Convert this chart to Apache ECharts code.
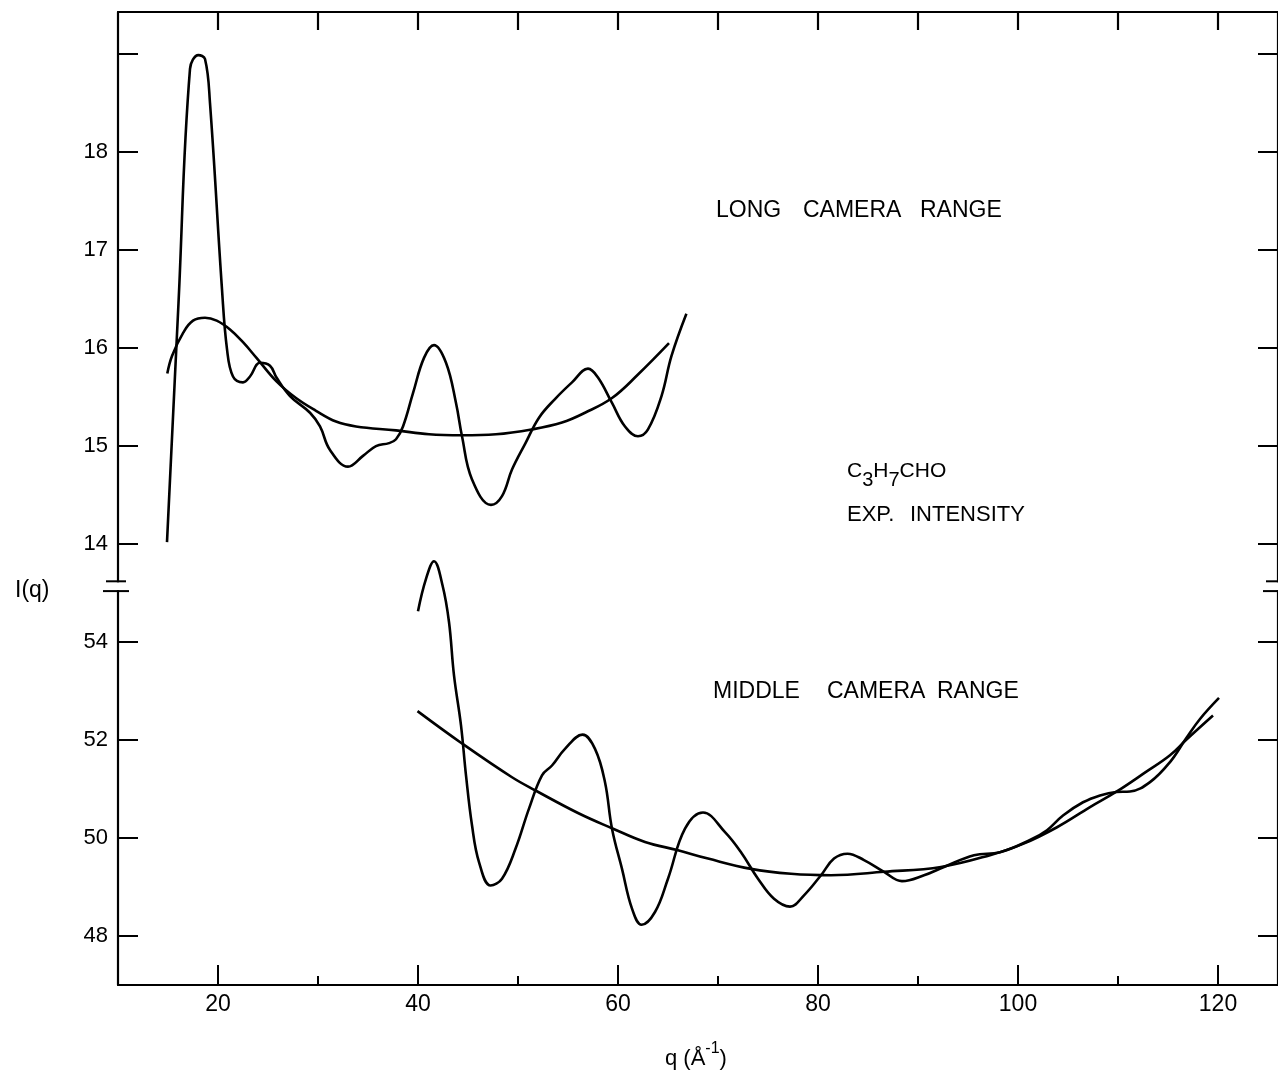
<!DOCTYPE html>
<html>
<head>
<meta charset="utf-8">
<script src="https://cdn.jsdelivr.net/npm/echarts@6/dist/echarts.min.js"></script>
<style>
html,body{margin:0;padding:0;background:#fff;}
#chart{width:1278px;height:1071px;}
</style>
</head>
<body>
<div id="chart"></div>
<script>
// ---- Data ----
// Long camera range (upper panel, I(q) scale 14..19)
const longExpQ = [14.9, 16.05, 17.2, 18.04, 18.7, 19.2, 20.4, 20.9, 21.5, 22.5, 23.2, 24.2, 25.2, 25.85, 27.2, 29.2, 30.2, 31.2, 33.0, 34.5, 35.8, 37.1, 37.8, 38.5, 39.5, 40.6, 41.6, 42.8, 43.8, 44.4, 45.4, 47.3, 48.4, 49.4, 50.75, 52.1, 53.7, 55.4, 57.0, 58.0, 59.4, 60.7, 62.0, 63.0, 64.35, 65.35, 66.84];
const longExpI = [14.02, 16.46, 18.85, 18.99, 18.95, 18.5, 16.6, 15.99, 15.71, 15.65, 15.71, 15.85, 15.82, 15.7, 15.51, 15.34, 15.2, 14.96, 14.79, 14.9, 15.0, 15.03, 15.07, 15.2, 15.54, 15.9, 16.03, 15.85, 15.44, 15.1, 14.66, 14.40, 14.49, 14.76, 15.03, 15.29, 15.48, 15.65, 15.79, 15.70, 15.44, 15.2, 15.1, 15.17, 15.51, 15.92, 16.35];
const longSmoothQ = [14.93, 15.4, 16.54, 17.5, 18.7, 19.87, 21.2, 22.5, 23.85, 25.85, 27.8, 29.8, 31.8, 33.8, 37.8, 41.1, 44.4, 47.8, 51.4, 54.4, 56.7, 59.4, 62.0, 65.1];
const longSmoothI = [15.74, 15.92, 16.16, 16.28, 16.31, 16.28, 16.19, 16.06, 15.9, 15.66, 15.49, 15.36, 15.25, 15.2, 15.16, 15.12, 15.11, 15.12, 15.17, 15.24, 15.34, 15.49, 15.73, 16.05];
// Middle camera range (lower panel, I(q) scale 48..54)
const midExpQ = [40.0, 40.8, 41.6, 42.45, 43.1, 43.6, 44.3, 44.8, 45.4, 46.1, 47.26, 48.4, 49.75, 51.1, 52.4, 53.4, 54.7, 56.45, 57.7, 58.7, 59.4, 60.4, 61.4, 62.36, 63.7, 65.0, 66.7, 68.5, 70.7, 72.3, 74.0, 75.6, 77.2, 78.6, 80.3, 81.6, 82.95, 84.6, 86.6, 88.4, 90.6, 92.6, 95.6, 98.2, 101.2, 102.9, 104.5, 106.5, 108.2, 109.8, 111.2, 113.2, 115.2, 116.8, 118.2, 120.1];
const midExpI = [54.63, 55.29, 55.65, 55.16, 54.41, 53.32, 52.3, 51.28, 50.26, 49.51, 49.03, 49.17, 49.78, 50.6, 51.28, 51.48, 51.82, 52.11, 51.82, 51.14, 50.19, 49.37, 48.56, 48.23, 48.49, 49.17, 50.19, 50.52, 50.12, 49.71, 49.17, 48.76, 48.6, 48.83, 49.24, 49.58, 49.68, 49.55, 49.31, 49.12, 49.24, 49.41, 49.65, 49.71, 49.96, 50.16, 50.46, 50.73, 50.87, 50.94, 50.95, 51.14, 51.55, 52.03, 52.43, 52.86];
const midSmoothQ = [39.95, 44.4, 49.4, 51.75, 56.1, 59.4, 62.7, 66.0, 69.0, 73.3, 77.3, 81.3, 86.6, 92.3, 97.2, 100.5, 103.9, 107.2, 109.8, 112.8, 115.2, 116.8, 119.5];
const midSmoothI = [52.59, 51.93, 51.24, 50.97, 50.5, 50.2, 49.92, 49.75, 49.58, 49.37, 49.27, 49.24, 49.31, 49.41, 49.65, 49.88, 50.22, 50.63, 50.94, 51.35, 51.69, 52.0, 52.5];

// Tick values / labels
const xMajorTicks = [20, 40, 60, 80, 100, 120];
const xMinorTicks = [30, 50, 70, 90, 110];
const xTopTicks = [20, 30, 40, 50, 60, 70, 80, 90, 100, 110, 120];
const yLowerTicks = [48, 50, 52, 54];
const yUpperTicks = [14, 15, 16, 17, 18];
const yUpperExtraTicks = [19];

// Unified vertical coordinate: lower panel (I-47)/2, upper panel I-9.5
const lowerToY = v => (v - 47) / 2;
const upperToY = v => v - 9.5;

const yLabelVals = yLowerTicks.map(lowerToY).concat(yUpperTicks.map(upperToY));
const yLabelText = yLowerTicks.map(String).concat(yUpperTicks.map(String));
const yTickVals = yLabelVals.concat(yUpperExtraTicks.map(upperToY));

const pairs = (qs, is, f) => qs.map((q, i) => [q, f(is[i])]);

const FONT = '"Liberation Sans", Arial, sans-serif';
const chart = echarts.init(document.getElementById('chart'), null, {renderer: 'canvas'});

const lineStyle = {color: '#000', width: 2.6};
const mkSeries = (name, data) => ({
  name, type: 'line', data, showSymbol: false, symbol: 'none',
  smooth: 0.4, lineStyle, z: 3, silent: true
});

const axisLineStyle = {show: true, lineStyle: {color: '#000', width: 2.2}};

const option = {
  backgroundColor: '#fff',
  animation: false,
  grid: {left: 118, top: 12, width: 1164, height: 973},
  xAxis: [
    {
      type: 'value', position: 'bottom', min: 10, max: 126,
      axisLine: axisLineStyle,
      axisTick: {show: true, inside: true, length: 20, customValues: xMajorTicks, lineStyle: {color: '#000', width: 2}},
      axisLabel: {show: true, customValues: xMajorTicks, margin: 8, color: '#000', fontSize: 23, fontFamily: FONT},
      splitLine: {show: false}
    },
    {
      type: 'value', position: 'bottom', min: 10, max: 126,
      axisLine: {show: false},
      axisTick: {show: true, inside: true, length: 9, customValues: xMinorTicks, lineStyle: {color: '#000', width: 2}},
      axisLabel: {show: false},
      splitLine: {show: false}
    },
    {
      type: 'value', position: 'top', min: 10, max: 126,
      axisLine: axisLineStyle,
      axisTick: {show: true, inside: true, length: 18, customValues: xTopTicks, lineStyle: {color: '#000', width: 2.2}},
      axisLabel: {show: false},
      splitLine: {show: false}
    }
  ],
  yAxis: [
    {
      type: 'value', position: 'left', min: 0, max: 9.93,
      axisLine: axisLineStyle,
      axisTick: {show: true, inside: true, length: 20, customValues: yTickVals, lineStyle: {color: '#000', width: 2}},
      axisLabel: {
        show: true, customValues: yLabelVals, margin: 10, color: '#000', fontSize: 22, fontFamily: FONT,
        formatter: v => { const i = yLabelVals.findIndex(t => Math.abs(t - v) < 1e-6); return i >= 0 ? yLabelText[i] : ''; }
      },
      splitLine: {show: false}
    },
    {
      type: 'value', position: 'right', min: 0, max: 9.93,
      axisLine: axisLineStyle,
      axisTick: {show: true, inside: true, length: 20, customValues: yTickVals, lineStyle: {color: '#000', width: 2}},
      axisLabel: {show: false},
      splitLine: {show: false}
    }
  ],
  series: [
    mkSeries('Long exp', pairs(longExpQ, longExpI, upperToY)),
    mkSeries('Long smooth', pairs(longSmoothQ, longSmoothI, upperToY)),
    mkSeries('Middle exp', pairs(midExpQ, midExpI, lowerToY)),
    mkSeries('Middle smooth', pairs(midSmoothQ, midSmoothI, lowerToY))
  ]
};
chart.setOption(option);

// ---- Annotations and axis-break marks ----
const txt = (x, y, text, size, extra) => Object.assign({
  type: 'text', x, y, z: 10, silent: true,
  style: Object.assign({text, fill: '#000', font: size + 'px ' + FONT, align: 'left', verticalAlign: 'middle'}, extra || {})
});

const yBreakTop = chart.convertToPixel({yAxisIndex: 0}, 4.12);
const yBreakBot = chart.convertToPixel({yAxisIndex: 0}, 4.02);
const xL = chart.convertToPixel({xAxisIndex: 0}, 10);
const xR = chart.convertToPixel({xAxisIndex: 0}, 126);
const brk = xc => [
  {type: 'rect', z: 20, silent: true, shape: {x: xc - 3, y: yBreakTop + 1, width: 6, height: yBreakBot - yBreakTop - 2}, style: {fill: '#fff'}},
  {type: 'line', z: 21, silent: true, shape: {x1: xc - 12, y1: yBreakTop, x2: xc + 8, y2: yBreakTop}, style: {stroke: '#000', lineWidth: 2}},
  {type: 'line', z: 21, silent: true, shape: {x1: xc - 15, y1: yBreakBot, x2: xc + 11, y2: yBreakBot}, style: {stroke: '#000', lineWidth: 2}}
];

chart.setOption({
  graphic: [
    ...brk(xL), ...brk(xR),
    txt(716, 211, 'LONG', 23), txt(803, 211, 'CAMERA', 23), txt(920, 211, 'RANGE', 23),
    txt(713, 692, 'MIDDLE', 23), txt(827, 692, 'CAMERA', 23), txt(937, 692, 'RANGE', 23),
    {
      type: 'text', x: 847, y: 461, z: 10, silent: true,
      style: {
        text: '{a|C}{s|3}{a|H}{s|7}{a|CHO}', fill: '#000', font: '21px ' + FONT, align: 'left', verticalAlign: 'top',
        rich: {
          a: {fontSize: 21, fontFamily: FONT, verticalAlign: 'top', lineHeight: 29},
          s: {fontSize: 20, fontFamily: FONT, verticalAlign: 'bottom', lineHeight: 29}
        }
      }
    },
    txt(847, 515, 'EXP.', 22), txt(910, 515, 'INTENSITY', 22),
    txt(15, 591, 'I(q)', 23),
    {
      type: 'text', x: 665, y: 1041, z: 10, silent: true,
      style: {
        text: '{n|q (Å}{p|-1}{n|)}', fill: '#000', font: '22px ' + FONT, align: 'left', verticalAlign: 'top',
        rich: {
          n: {fontSize: 22, fontFamily: FONT, verticalAlign: 'bottom', lineHeight: 29},
          p: {fontSize: 16, fontFamily: FONT, verticalAlign: 'top', lineHeight: 29}
        }
      }
    }
  ]
});
</script>
</body>
</html>
